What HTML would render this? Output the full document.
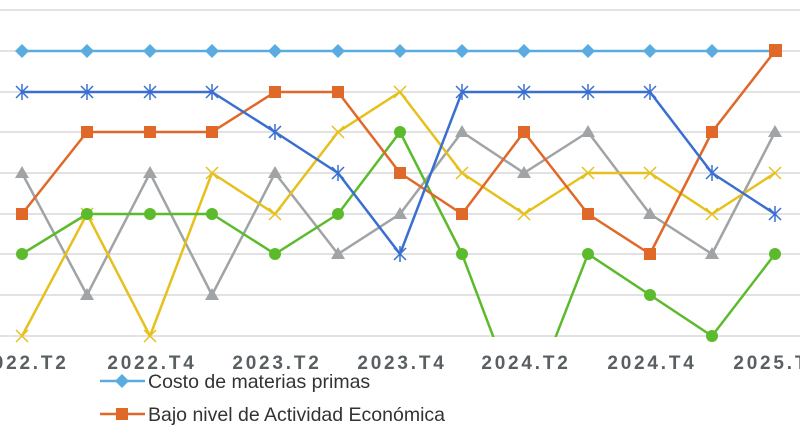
<!DOCTYPE html>
<html><head><meta charset="utf-8"><style>
html,body{margin:0;padding:0;background:#fff;}
svg{display:block;}
</style></head><body>
<svg width="800" height="445" viewBox="0 0 800 445" xmlns="http://www.w3.org/2000/svg" font-family="Liberation Sans, sans-serif">
<defs><clipPath id="c"><rect x="0" y="0" width="800" height="337"/></clipPath></defs>
<g stroke="#e2e2e2" stroke-width="2">
<line x1="0" x2="800" y1="10" y2="10"/><line x1="0" x2="800" y1="51" y2="51"/><line x1="0" x2="800" y1="92" y2="92"/><line x1="0" x2="800" y1="132" y2="132"/><line x1="0" x2="800" y1="173" y2="173"/><line x1="0" x2="800" y1="214" y2="214"/><line x1="0" x2="800" y1="254" y2="254"/><line x1="0" x2="800" y1="295" y2="295"/><line x1="0" x2="800" y1="336" y2="336"/>
</g>
<g clip-path="url(#c)" fill="none" stroke-width="2.5" stroke-linejoin="round">
<polyline stroke="#a0a4a6" points="22,173 87,295 150,173 212,295 275,173 338,254 400,214 462,132 524,173 588,132 650,214 712,254 775,132"/>
<polyline stroke="#e6c01c" points="22,336 87,214 150,336 212,173 275,214 338,132 400,92 462,173 524,214 588,173 650,173 712,214 775,173"/>
<polyline stroke="#5cbb2c" points="22,254 87,214 150,214 212,214 275,254 338,214 400,132 462,254 524,418 588,254 650,295 712,336 775,254"/>
<polyline stroke="#5aabdf" points="22,51 87,51 150,51 212,51 275,51 338,51 400,51 462,51 524,51 588,51 650,51 712,51 775,51"/>
<polyline stroke="#e0692a" points="22,214 87,132 150,132 212,132 275,92 338,92 400,173 462,214 524,132 588,214 650,254 712,132 775,51"/>
<polyline stroke="#3a6fd0" points="22,92 87,92 150,92 212,92 275,132 338,173 400,254 462,92 524,92 588,92 650,92 712,173 775,214"/>
</g>
<g fill="#a0a4a6">
<path d="M22,166l7,12h-14z"/><path d="M87,288l7,12h-14z"/><path d="M150,166l7,12h-14z"/><path d="M212,288l7,12h-14z"/><path d="M275,166l7,12h-14z"/><path d="M338,247l7,12h-14z"/><path d="M400,207l7,12h-14z"/><path d="M462,125l7,12h-14z"/><path d="M524,166l7,12h-14z"/><path d="M588,125l7,12h-14z"/><path d="M650,207l7,12h-14z"/><path d="M712,247l7,12h-14z"/><path d="M775,125l7,12h-14z"/>
</g>
<g stroke="#e6c01c" stroke-width="1.5">
<path d="M16,330l12,12M28,330l-12,12"/><path d="M81,208l12,12M93,208l-12,12"/><path d="M144,330l12,12M156,330l-12,12"/><path d="M206,167l12,12M218,167l-12,12"/><path d="M269,208l12,12M281,208l-12,12"/><path d="M332,126l12,12M344,126l-12,12"/><path d="M394,86l12,12M406,86l-12,12"/><path d="M456,167l12,12M468,167l-12,12"/><path d="M518,208l12,12M530,208l-12,12"/><path d="M582,167l12,12M594,167l-12,12"/><path d="M644,167l12,12M656,167l-12,12"/><path d="M706,208l12,12M718,208l-12,12"/><path d="M769,167l12,12M781,167l-12,12"/>
</g>
<g fill="#5cbb2c">
<circle cx="22" cy="254" r="6"/><circle cx="87" cy="214" r="6"/><circle cx="150" cy="214" r="6"/><circle cx="212" cy="214" r="6"/><circle cx="275" cy="254" r="6"/><circle cx="338" cy="214" r="6"/><circle cx="400" cy="132" r="6"/><circle cx="462" cy="254" r="6"/><circle cx="588" cy="254" r="6"/><circle cx="650" cy="295" r="6"/><circle cx="712" cy="336" r="6"/><circle cx="775" cy="254" r="6"/>
</g>
<g fill="#5aabdf">
<path d="M22,44l7,7-7,7-7-7z"/><path d="M87,44l7,7-7,7-7-7z"/><path d="M150,44l7,7-7,7-7-7z"/><path d="M212,44l7,7-7,7-7-7z"/><path d="M275,44l7,7-7,7-7-7z"/><path d="M338,44l7,7-7,7-7-7z"/><path d="M400,44l7,7-7,7-7-7z"/><path d="M462,44l7,7-7,7-7-7z"/><path d="M524,44l7,7-7,7-7-7z"/><path d="M588,44l7,7-7,7-7-7z"/><path d="M650,44l7,7-7,7-7-7z"/><path d="M712,44l7,7-7,7-7-7z"/>
</g>
<g fill="#e0692a">
<rect x="16" y="208" width="12" height="12"/><rect x="81" y="126" width="12" height="12"/><rect x="144" y="126" width="12" height="12"/><rect x="206" y="126" width="12" height="12"/><rect x="269" y="86" width="12" height="12"/><rect x="332" y="86" width="12" height="12"/><rect x="394" y="167" width="12" height="12"/><rect x="456" y="208" width="12" height="12"/><rect x="518" y="126" width="12" height="12"/><rect x="582" y="208" width="12" height="12"/><rect x="644" y="248" width="12" height="12"/><rect x="706" y="126" width="12" height="12"/><rect x="769" y="44" width="13" height="13"/>
</g>
<g stroke="#3a6fd0" stroke-width="1.5">
<path d="M16,86l12,12M28,86l-12,12M22,84v16"/><path d="M81,86l12,12M93,86l-12,12M87,84v16"/><path d="M144,86l12,12M156,86l-12,12M150,84v16"/><path d="M206,86l12,12M218,86l-12,12M212,84v16"/><path d="M269,126l12,12M281,126l-12,12M275,124v16"/><path d="M332,167l12,12M344,167l-12,12M338,165v16"/><path d="M394,248l12,12M406,248l-12,12M400,246v16"/><path d="M456,86l12,12M468,86l-12,12M462,84v16"/><path d="M518,86l12,12M530,86l-12,12M524,84v16"/><path d="M582,86l12,12M594,86l-12,12M588,84v16"/><path d="M644,86l12,12M656,86l-12,12M650,84v16"/><path d="M706,167l12,12M718,167l-12,12M712,165v16"/><path d="M769,208l12,12M781,208l-12,12M775,206v16"/>
</g>
<g fill="#5a5f62" font-size="19" font-weight="bold" letter-spacing="2.8" text-anchor="middle">
<text x="24" y="369">2022.T2</text><text x="152" y="369">2022.T4</text><text x="277" y="369">2023.T2</text><text x="402" y="369">2023.T4</text><text x="526" y="369">2024.T2</text><text x="652" y="369">2024.T4</text><text x="778" y="369">2025.T2</text>
</g>
<line x1="100" x2="145" y1="381" y2="381" stroke="#5aabdf" stroke-width="2.5"/>
<path d="M122,374l7,7-7,7-7-7z" fill="#5aabdf"/>
<text x="148" y="388" font-size="19.5" fill="#333">Costo de materias primas</text>
<line x1="100" x2="145" y1="414" y2="414" stroke="#e0692a" stroke-width="2.5"/>
<rect x="116" y="408" width="12" height="12" fill="#e0692a"/>
<text x="148" y="421" font-size="19.5" fill="#333">Bajo nivel de Actividad Económica</text>
</svg>
</body></html>
